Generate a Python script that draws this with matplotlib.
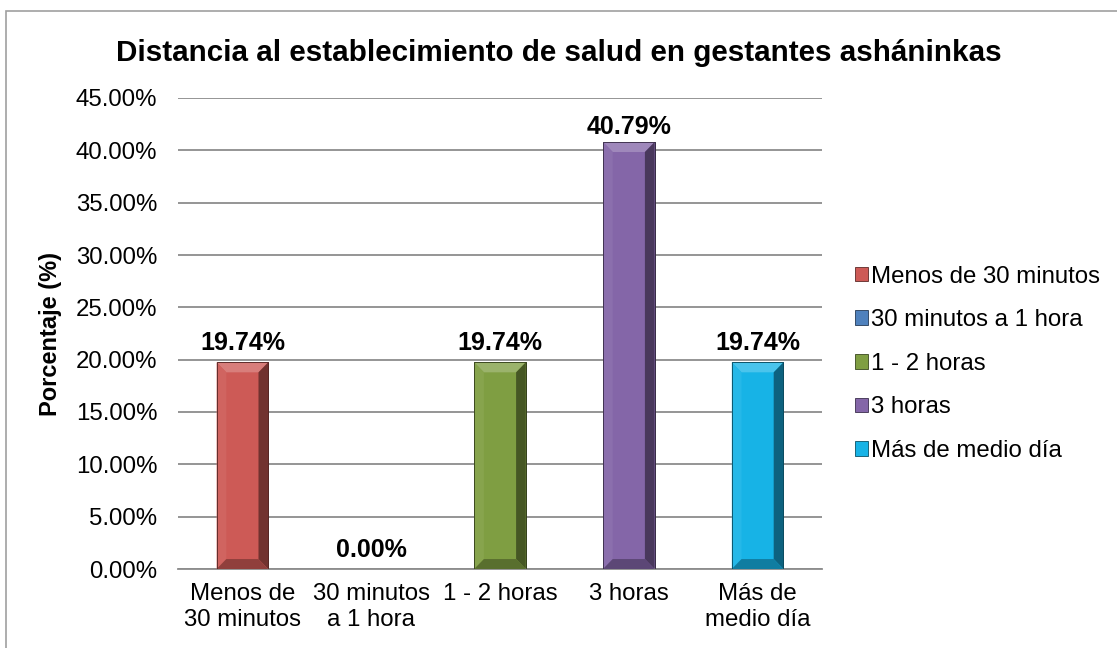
import matplotlib
matplotlib.use("Agg")
import matplotlib.pyplot as plt
from matplotlib.patches import Rectangle, Polygon
import matplotlib.colors as mcolors
import numpy as np

plt.rcParams['font.family'] = ['Liberation Sans', 'DejaVu Sans']

categories = ["Menos de\n30 minutos", "30 minutos\na 1 hora", "1 - 2 horas", "3 horas", "Más de\nmedio día"]
legend_labels = ["Menos de 30 minutos", "30 minutos a 1 hora", "1 - 2 horas", "3 horas", "Más de medio día"]
values = [19.74, 0.00, 19.74, 40.79, 19.74]
bar_labels = ["19.74%", "0.00%", "19.74%", "40.79%", "19.74%"]
colors = ["#CD5A56", "#4F81BD", "#7F9E42", "#8466A8", "#17B3E6"]
yticks = [0, 5, 10, 15, 20, 25, 30, 35, 40, 45]
ytick_labels = ["0.00%", "5.00%", "10.00%", "15.00%", "20.00%", "25.00%", "30.00%", "35.00%", "40.00%", "45.00%"]

W, H = 1117, 648
fig = plt.figure(figsize=(W / 100, H / 100), dpi=100)
ax = fig.add_axes([178 / W, 1 - 569 / H, (822 - 178) / W, (569 - 98) / H])

# outer border (top/left visible)
fig.patches.append(Rectangle((6 / W, -0.05), 1.2, 1 - 11 / H + 0.05, transform=fig.transFigure,
                             fill=False, edgecolor="#A0A0A0", linewidth=1.2, zorder=0))

x = np.arange(len(values))
bw = 0.40
ax.set_xlim(-0.5, len(values) - 0.5)
ax.set_ylim(0, 45)
ax.set_yticks(yticks)
ax.set_yticklabels(ytick_labels, fontsize=17.3)
ax.set_xticks(x)
ax.set_xticklabels(categories, fontsize=17.3, linespacing=1.22)
ax.tick_params(axis='y', length=0, pad=15)
ax.tick_params(axis='x', length=0, pad=10)
ax.yaxis.grid(True, color="#8C8C8C", linewidth=1.3)
ax.set_axisbelow(True)
for s in ["top", "right", "left"]:
    ax.spines[s].set_visible(False)
ax.spines["bottom"].set_color("#8C8C8C")
ax.spines["bottom"].set_linewidth(1.3)

def shade(c, f):
    r = np.array(mcolors.to_rgb(c))
    if f >= 0:
        r = r + (1 - r) * f
    else:
        r = r * (1 + f)
    return tuple(np.clip(r, 0, 1))

bx = 0.075  # horizontal bevel (data units)
by = 0.95   # vertical bevel (data units)
handles = []
for xi, v, c, lab in zip(x, values, colors, legend_labels):
    h = ax.bar(xi, v, width=bw, color=c, edgecolor=shade(c, -0.55), linewidth=0.6, zorder=2, label=lab)
    handles.append(h)
    if v > 0:
        l, r = xi - bw / 2, xi + bw / 2
        byy = min(by, v / 2)
        # top bevel (light)
        ax.add_patch(Polygon([(l, v), (r, v), (r - bx, v - byy), (l + bx, v - byy)],
                             closed=True, color=shade(c, 0.22), zorder=3, lw=0))
        # left bevel (slightly light)
        ax.add_patch(Polygon([(l, v), (l + bx, v - byy), (l + bx, byy), (l, 0)],
                             closed=True, color=shade(c, 0.06), zorder=3, lw=0))
        # right bevel (dark)
        ax.add_patch(Polygon([(r, v), (r - bx, v - byy), (r - bx, byy), (r, 0)],
                             closed=True, color=shade(c, -0.45), zorder=3, lw=0))
        # bottom bevel (darker)
        ax.add_patch(Polygon([(l, 0), (r, 0), (r - bx, byy), (l + bx, byy)],
                             closed=True, color=shade(c, -0.3), zorder=3, lw=0))
        ax.add_patch(Rectangle((l, 0), bw, v, fill=False, edgecolor=shade(c, -0.6), lw=0.6, zorder=4))
    off = 2 if v > 30 else 5
    ax.annotate(bar_labels[xi], (xi, v), xytext=(0, off), textcoords="offset points",
                ha="center", va="bottom", fontsize=18, fontweight="bold")

ax.set_ylabel("Porcentaje (%)", fontsize=17, fontweight="bold")
ax.yaxis.set_label_coords((62 - 178) / (822 - 178), 0.5)

fig.text(0.5 + 0 / W, 1 - 53 / H, "Distancia al establecimiento de salud en gestantes asháninkas",
         ha="center", va="center", fontsize=21.3, fontweight="bold")

leg = fig.legend(handles=handles, labels=legend_labels, loc="upper left",
                 bbox_to_anchor=(845 / W, 1 - 256 / H), frameon=False, fontsize=17.3,
                 handlelength=0.55, handleheight=0.55, handletextpad=0.15, labelspacing=0.9,
                 borderaxespad=0)

fig.savefig("out.png", dpi=100)
